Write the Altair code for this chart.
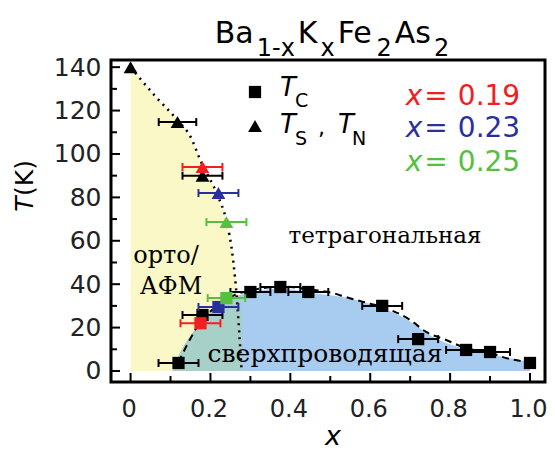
import altair as alt
import pandas as pd
import numpy as np

# ---------------- data ----------------
# structural transition / AFM boundary (dotted)
ts_x = [0.0, 0.06, 0.12, 0.15, 0.175, 0.22, 0.2375, 0.2575, 0.265, 0.272, 0.278]
ts_T = [140, 127, 115, 108, 97, 80, 71, 50, 36, 18, 0]

# superconducting dome (fill)
dome_fill_x = [0.105, 0.125, 0.155, 0.18, 0.22, 0.25, 0.30, 0.375, 0.45, 0.57, 0.675, 0.77, 0.84, 0.92, 1.0]
dome_fill_T = [0, 8.7, 17.5, 24, 30, 33.5, 36, 38, 36, 32.5, 25.5, 14.5, 10, 7, 4]

# superconducting dome (dashed line)
dome_line_x = [0.12, 0.15, 0.18, 0.22, 0.26, 0.30, 0.375, 0.45, 0.505, 0.54, 0.60, 0.63, 0.70, 0.74, 0.79, 0.84, 0.90, 0.93, 1.0]
dome_line_T = [4, 15, 24, 30, 35, 37, 39, 37.5, 36, 34, 31, 29.5, 23.5, 18, 14.3, 10.5, 8.5, 6.5, 4]

# Tc points (squares)
tc_x     = [0.12, 0.18, 0.30, 0.375, 0.445, 0.63, 0.72, 0.84, 0.90, 1.0, 0.175, 0.22, 0.24]
tc_T     = [3.7, 25.8, 36.4, 38.7, 36.4, 30.0, 14.7, 9.7, 8.75, 3.7, 22.0, 29.5, 33.6]
tc_err   = [0.05, 0.05, 0.05, 0.05, 0.05, 0.05, 0.05, 0.05, 0.05, 0.0, 0.05, 0.05, 0.047]
tc_color = ["black"] * 10 + ["red", "blue", "green"]

# Ts, TN points (triangles)
ts_px    = [0.0, 0.1175, 0.18, 0.18, 0.22, 0.24]
ts_pT    = [140, 114.7, 90.0, 94.0, 82.0, 68.6]
ts_err   = [0.0, 0.047, 0.05, 0.05, 0.05, 0.05]
ts_color = ["black", "black", "black", "red", "blue", "green"]

palette = {"black": "#000000", "red": "#F02020", "blue": "#2B2F9E", "green": "#55C040"}

xticks_major = [0.0, 0.2, 0.4, 0.6, 0.8, 1.0]
xticks_minor = [0.1, 0.3, 0.5, 0.7, 0.9]
yticks_major = [0, 20, 40, 60, 80, 100, 120, 140]
yticks_minor = [10, 30, 50, 70, 90, 110, 130]

W, H = 434, 322
xscale = alt.Scale(domain=[-0.049, 1.0376], nice=False, zero=False)
yscale = alt.Scale(domain=[-5.07, 143.3], nice=False, zero=False)

axis_font = dict(labelFont="DejaVu Sans", labelColor="#222222",
                 ticks=False, domain=False, grid=False, title=None, labelFlush=False)
xaxis = alt.Axis(values=xticks_major, labelPadding=15, labelFontSize=24, labelOffset=-2,
                 labelExpr="datum.value == 0 ? '0' : format(datum.value, '.1f')", **axis_font)
yaxis = alt.Axis(values=yticks_major, labelPadding=10, labelFontSize=25, **axis_font)

def X(f, **kw):
    return alt.X(f, type="quantitative", scale=xscale, axis=xaxis, **kw)

def Y(f, **kw):
    return alt.Y(f, type="quantitative", scale=yscale, axis=yaxis, **kw)

# ---------------- areas ----------------
yellow_df = pd.DataFrame({"x": ts_x, "T": ts_T})
blue_df = pd.DataFrame({"x": dome_fill_x, "T": dome_fill_T})
x_end = ts_x[-1]
teal_x = [v for v in dome_fill_x if v <= x_end] + [x_end]
teal_T = list(np.interp(teal_x, dome_fill_x, dome_fill_T))
teal_df = pd.DataFrame({"x": teal_x, "T": teal_T})

yellow = alt.Chart(yellow_df).mark_area(color="#FBF8C8", opacity=1, interpolate="linear").encode(
    x=X("x"), y=Y("T"), y2=alt.datum(0))
blue = alt.Chart(blue_df).mark_area(color="#A8CCF0", opacity=1, interpolate="monotone").encode(
    x=X("x"), y=Y("T"), y2=alt.datum(0))
teal = alt.Chart(teal_df).mark_area(color="#A6D0C8", opacity=1, interpolate="monotone").encode(
    x=X("x"), y=Y("T"), y2=alt.datum(0))

ts_line = alt.Chart(yellow_df).mark_line(color="black", strokeWidth=2.5, strokeDash=[2, 5], interpolate="monotone").encode(
    x=X("x"), y=Y("T"))
dome_line = alt.Chart(pd.DataFrame({"x": dome_line_x, "T": dome_line_T})).mark_line(
    color="black", strokeWidth=2, strokeDash=[7, 5], interpolate="monotone").encode(x=X("x"), y=Y("T"))

# ---------------- points ----------------
tc_df = pd.DataFrame({"x": tc_x, "T": tc_T, "err": tc_err, "c": [palette[c] for c in tc_color],
                      "order": [0 if c == "black" else 1 for c in tc_color]})
tr_df = pd.DataFrame({"x": ts_px, "T": ts_pT, "err": ts_err, "c": [palette[c] for c in ts_color],
                      "order": [0 if c == "black" else 1 for c in ts_color]})
for d in (tc_df, tr_df):
    d["xmin"] = d["x"] - d["err"]
    d["xmax"] = d["x"] + d["err"]

def point_layers(df, shape, size):
    layers = []
    for o in (0, 1):
        sub = df[(df["order"] == o)]
        ebar = sub[sub["err"] > 0]
        bar = alt.Chart(ebar).mark_rule(strokeWidth=2).encode(
            x=X("xmin"), x2="xmax", y=Y("T"), color=alt.Color("c:N", scale=None))
        capl = alt.Chart(ebar).mark_point(shape="M0,-1L0,1", filled=False, strokeWidth=2, size=64, opacity=1).encode(
            x=X("xmin"), y=Y("T"), color=alt.Color("c:N", scale=None))
        capr = alt.Chart(ebar).mark_point(shape="M0,-1L0,1", filled=False, strokeWidth=2, size=64, opacity=1).encode(
            x=X("xmax"), y=Y("T"), color=alt.Color("c:N", scale=None))
        pts = alt.Chart(sub).mark_point(shape=shape, filled=True, size=size, opacity=1).encode(
            x=X("x"), y=Y("T"), color=alt.Color("c:N", scale=None))
        layers += [bar, capl, capr, pts]
    return layers

# ---------------- inward ticks ----------------
def xtick_layer(vals, ln):
    return alt.Chart(pd.DataFrame({"v": vals})).mark_rule(color="black", strokeWidth=2).encode(
        x=X("v"), y=alt.value(H), y2=alt.value(H - ln))

def ytick_layer(vals, ln):
    return alt.Chart(pd.DataFrame({"v": vals})).mark_rule(color="black", strokeWidth=2).encode(
        y=Y("v"), x=alt.value(0), x2=alt.value(ln))

ticks = [xtick_layer(xticks_major, 9), xtick_layer(xticks_minor, 6),
         ytick_layer(yticks_major, 9), ytick_layer(yticks_minor, 6)]

# ---------------- texts ----------------
def txt(s, x, y, size, font="DejaVu Sans", style="normal", color="black", align="left",
        baseline="alphabetic", angle=0):
    return alt.Chart(pd.DataFrame({"t": [s]})).mark_text(
        font=font, fontSize=size, fontStyle=style, color=color, align=align, baseline=baseline,
        angle=angle).encode(text="t:N", x=alt.value(x), y=alt.value(y))

ox, oy = 111, 60  # plot-area origin on the page

texts = []
# title Ba1-xKxFe2As2  (natural spacing, font 30 / 24)
title_parts = [("Ba", 39.0, False), ("1-x", 38.1, True), ("K", 19.7, False), ("x", 14.2, True),
               ("Fe", 35.7, False), ("2", 15.3, True), ("As", 36.2, False), ("2", 15.3, True)]
gap = 3
total = sum(w for _, w, _ in title_parts) + gap * (len(title_parts) - 1)
cur = 332 - total / 2
for s, w, sub in title_parts:
    if sub:
        texts.append(txt(s, cur - ox, 56 - oy, 24))
    else:
        texts.append(txt(s, cur - ox, 43 - oy, 30))
    cur += w + gap
# legend
texts.append(alt.Chart(pd.DataFrame({"a": [0]})).mark_point(shape="square", filled=True, size=150, color="black",
             opacity=1).encode(x=alt.value(255 - ox), y=alt.value(92 - oy)))
texts.append(alt.Chart(pd.DataFrame({"a": [0]})).mark_point(shape="triangle-up", filled=True, size=190, color="black",
             opacity=1).encode(x=alt.value(255 - ox), y=alt.value(126 - oy)))
texts += [
    txt("T", 280 - ox, 96 - oy, 26, style="italic"),
    txt("C", 295 - ox, 107 - oy, 19),
    txt("T", 280 - ox, 133 - oy, 26, style="italic"),
    txt("S", 295 - ox, 145 - oy, 19),
    txt(",", 318 - ox, 135 - oy, 22),
    txt("T", 338 - ox, 133 - oy, 26, style="italic"),
    txt("N", 352 - ox, 145 - oy, 19),
]
for (lab, col, by) in [("0.19", palette["red"], 105), ("0.23", palette["blue"], 137), ("0.25", palette["green"], 171)]:
    texts += [
        txt("x", 414 - ox, by - oy, 28, style="italic", color=col, align="center"),
        txt("=", 436 - ox, by - oy, 28, color=col, align="center"),
        txt(lab, 489 - ox, by - oy, 28, color=col, align="center"),
    ]
# region labels
serif = "DejaVu Serif"
texts += [
    txt("орто/", 166 - ox, 263 - oy, 24, font=serif, align="center"),
    txt("АФМ", 171 - ox, 294 - oy, 24, font=serif, align="center"),
    txt("тетрагональная", 385 - ox, 243 - oy, 23, font=serif, align="center"),
    txt("сверхпроводящая", 325 - ox, 362 - oy, 25, font=serif, align="center"),
]
# axis titles
texts += [
    txt("T", 25 - ox, 204 - oy, 25, style="italic", align="center", baseline="middle", angle=270),
    txt("(K)", 25 - ox, 178 - oy, 25, align="center", baseline="middle", angle=270),
    txt("x", 333 - ox, 445 - oy, 27, style="italic", align="center", baseline="alphabetic"),
]

layers = [yellow, blue, teal, ts_line, dome_line] + ticks
layers += point_layers(tr_df, "triangle-up", 190)
layers += point_layers(tc_df, "square", 150)
layers += texts

chart = alt.layer(*layers).properties(
    width=W, height=H,
    autosize=alt.AutoSizeParams(type="none"),
    padding={"left": 103, "top": 52, "right": 2, "bottom": 72},
).configure_view(stroke="black", strokeWidth=3)

chart.save("out.html", embed_options={"renderer": "svg", "actions": False})
